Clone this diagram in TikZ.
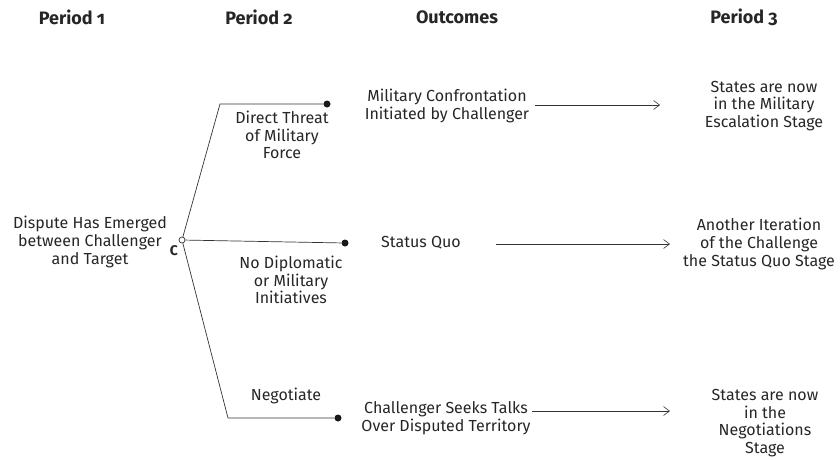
\documentclass[tikz,border=0pt]{standalone}
\usepackage{fontspec}
\setmainfont{Fira Sans}[Numbers=OldStyle]
\usetikzlibrary{arrows.meta, positioning}

\begin{document}
\begin{tikzpicture}[x=1pt, y=-1pt,
		every node/.style = {text = black!85},
		txt/.style = {align = center, font = \fontsize{16}{17.8}\selectfont, inner sep = 0pt},
		head/.style = {font = \fontsize{18}{20}\selectfont\bfseries, inner sep = 0pt},
		dot/.style = {circle, fill = black!90, inner sep = 0pt, minimum size = 7pt},
		branch/.style = {draw = black!80, line width = 0.7pt},
		outarrow/.style = {draw = black!80, line width = 0.6pt, -{Straight Barb[length = 6pt, width = 9pt]}}]
	\useasboundingbox (0,0) rectangle (840,459);

	% column headings
	\node [head] (p1) at (72,17) {Period 1};
	\node [head] (p2) at (259,17) {Period 2};
	\node [head] (oc) at (457,17) {Outcomes};
	\node [head] (p3) at (744,17) {Period 3};

	% period 1: the dispute
	\node [txt] (start) at (90,242) {Dispute Has Emerged\\between Challenger\\and Target};
	\node [circle, draw = black!80, line width = 0.7pt, fill = white, inner sep = 0pt, minimum size = 6pt] (root) at (182,240) {};
	\node [font = \fontsize{14}{16}\selectfont\bfseries, inner sep = 0pt] (chal) at (174,251) {C};

	% period 2: the moves
	\coordinate (up) at (220,104);
	\coordinate (down) at (228,418);
	\node [dot] (threat) at (327,104) {};
	\node [dot] (quiet) at (345,243) {};
	\node [dot] (talks) at (338,418) {};

	\begin{scope}[branch]
		\draw (root) -- (up) -- (threat);
		\draw (root) -- (quiet);
		\draw (root) -- (down) -- (talks);
	\end{scope}

	\node [txt] (threatlbl) at (282,135) {Direct Threat\\of Military\\Force};
	\node [txt] (quietlbl) at (291,280) {No Diplomatic\\or Military\\Initiatives};
	\node [txt] (talkslbl) at (286,396) {Negotiate};

	% outcomes
	\node [txt] (outA) at (447,106) {Military Confrontation\\Initiated by Challenger};
	\node [txt] (outB) at (421,243) {Status Quo};
	\node [txt] (outC) at (446,418) {Challenger Seeks Talks\\Over Disputed Territory};

	% period 3
	\node [txt] (endA) at (764,106) {States are now\\in the Military\\Escalation Stage};
	\node [txt] (endB) at (759,244) {Another Iteration\\of the Challenge\\the Status Quo Stage};
	\node [txt] (endC) at (765,423) {States are now\\in the\\Negotiations\\Stage};

	\coordinate (fromA) at (535,105);
	\coordinate (toA) at (660,105);
	\coordinate (fromB) at (496,244);
	\coordinate (toB) at (670,244);
	\coordinate (fromC) at (532,411);
	\coordinate (toC) at (670,411);

	\draw [outarrow] (fromA) -- (toA);
	\draw [outarrow] (fromB) -- (toB);
	\draw [outarrow] (fromC) -- (toC);
\end{tikzpicture}
\end{document}
